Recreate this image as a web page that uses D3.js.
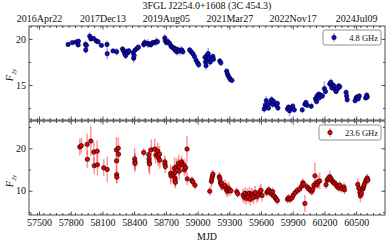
<!DOCTYPE html>
<html><head><meta charset="utf-8">
<script src="https://cdn.jsdelivr.net/npm/d3@7"></script>
<style>
html,body{margin:0;padding:0;background:#fff;}
svg text{font-family:"Liberation Serif","DejaVu Serif",serif;fill:#111;}
</style></head>
<body><svg id="c" width="389" height="243"></svg>
<script>
const title = "3FGL J2254.0+1608 (3C 454.3)";
const xTickValues = [57500,57800,58100,58400,58700,59000,59300,59600,59900,60200,60500];
const dateTickValues = [57500,58100,58700,59300,59900,60500];
const dateTickLabels = ["2016Apr22","2017Dec13","2019Aug05","2021Mar27","2022Nov17","2024Jul09"];
const yTopTicks = [15,20];
const yBotTicks = [10,20];
const legendTop = "4.8 GHz";
const legendBot = "23.6 GHz";

const mjd48 = [57775,57815,57848,57872,57870,57940,57942,57948,57980,57990,58015,58040,58058,58090,58143,58145,58200,58234,58290,58300,58310,58320,58330,58340,58350,58390,58395,58400,58410,58430,58440,58490,58500,58510,58530,58545,58560,58575,58590,58610,58620,58690,58695,58705,58720,58735,58750,58760,58775,58785,58795,58805,58815,58830,58850,58860,58925,58940,58955,58970,58985,59000,59010,59070,59075,59080,59090,59095,59100,59110,59120,59145,59150,59210,59220,59275,59282,59290,59300,59310,59325,59630,59640,59650,59660,59670,59690,59700,59710,59720,59745,59755,59760,59850,59860,59870,59885,59900,59915,59990,60015,60025,60035,60075,60115,60125,60130,60145,60150,60165,60180,60200,60210,60250,60260,60270,60280,60290,60300,60310,60325,60335,60345,60405,60410,60415,60490,60500,60510,60520,60530,60590,60600,60605];
const flux48 = [19.4,19.6,19.65,19.75,19.35,19.4,18.8,19.3,20.3,20.0,20.05,19.8,19.7,19.3,19.4,18.4,18.7,18.6,18.9,18.7,18.4,18.2,18.6,18.5,18.7,18.5,17.9,18.2,18.8,19.0,19.1,19.4,19.6,19.5,19.5,19.4,19.4,19.6,19.6,19.7,19.7,20.1,19.8,19.6,19.7,19.5,19.2,19.1,19.0,18.8,18.9,18.6,18.8,18.7,18.8,18.6,18.8,18.6,18.4,18.1,17.7,17.4,17.2,18.0,17.5,17.1,18.2,17.8,18.4,18.0,17.5,18.1,17.8,17.6,17.4,16.5,16.2,16.0,15.8,15.6,15.5,12.4,12.8,13.3,12.8,12.5,13.1,13.4,12.9,13.2,12.8,13.0,12.5,12.4,12.6,12.2,12.5,12.7,12.3,12.3,12.9,13.1,12.8,12.7,13.5,13.2,13.8,14.0,13.6,13.9,13.8,14.6,14.3,15.1,15.3,14.7,15.0,14.9,14.5,14.3,14.6,14.9,14.8,14.2,13.8,13.4,13.3,13.6,13.7,13.5,13.8,13.6,13.9,13.7];
const err48 = [0.2,0.2,0.2,0.2,0.25,0.4,0.4,0.3,0.4,0.3,0.25,0.3,0.3,0.2,0.4,0.6,0.2,0.4,0.3,0.3,0.5,0.4,0.4,0.3,0.3,0.4,0.5,0.4,0.3,0.3,0.3,0.4,0.4,0.3,0.5,0.3,0.4,0.3,0.3,0.5,0.3,0.4,0.3,0.3,0.4,0.3,0.4,0.3,0.4,0.4,0.3,0.4,0.3,0.5,0.4,0.3,0.3,0.3,0.3,0.4,0.4,0.4,0.4,0.4,0.5,0.5,0.5,0.5,0.6,0.4,0.4,0.3,0.3,0.3,0.3,0.3,0.4,0.3,0.4,0.3,0.3,0.4,0.5,0.5,0.4,0.3,0.4,0.4,0.4,0.3,0.3,0.3,0.3,0.3,0.3,0.6,0.3,0.3,0.3,0.3,0.3,0.3,0.3,0.3,0.3,0.3,0.3,0.3,0.3,0.3,0.3,0.8,0.3,0.3,0.4,0.3,0.3,0.3,0.3,0.3,0.3,0.3,0.3,0.3,0.3,0.3,0.3,0.3,0.3,0.3,0.3,0.3,0.3,0.3];

const mjd236 = [57885,57900,57955,57957,57990,58018,58022,58050,58052,58112,58145,58232,58233,58234,58236,58250,58252,58405,58407,58408,58490,58538,58540,58542,58545,58562,58595,58605,58623,58625,58628,58640,58642,58690,58692,58695,58745,58748,58768,58782,58784,58786,58788,58790,58800,58820,58822,58826,58848,58852,58872,58875,58888,58900,58902,58945,58955,58975,59115,59130,59135,59140,59145,59205,59210,59215,59222,59230,59238,59260,59270,59280,59290,59300,59315,59370,59380,59430,59440,59450,59460,59470,59480,59490,59500,59510,59520,59530,59545,59560,59575,59590,59600,59610,59655,59665,59675,59685,59700,59710,59720,59735,59745,59755,59850,59860,59875,59895,59905,59925,59945,59965,59985,59995,60005,60015,60035,60050,60065,60080,60090,60100,60110,60120,60130,60140,60155,60215,60225,60235,60250,60260,60270,60280,60295,60310,60320,60335,60345,60360,60385,60390,60515,60525,60535,60540,60550,60565,60570,60575,60585,60595,60605,60612];
const flux236 = [20.3,20.6,20.9,17.4,21.7,19.1,15.9,19.3,16.1,15.4,15.0,19.6,17.0,13.8,13.2,20.0,18.6,17.5,16.8,16.4,19.0,18.5,17.5,16.8,16.3,19.6,19.8,18.4,19.3,18.4,17.8,18.6,17.2,16.8,16.3,15.7,14.1,13.5,13.9,15.3,14.3,13.0,12.5,12.0,15.6,16.5,15.6,14.6,16.8,16.2,16.0,14.9,15.4,19.8,12.8,12.4,12.1,11.3,9.9,12.2,12.8,13.4,13.9,13.3,12.8,12.0,11.5,11.8,11.0,11.2,10.4,9.9,10.6,10.2,10.0,9.8,9.3,9.0,8.5,9.4,8.2,9.0,8.6,9.4,8.0,9.2,8.9,8.4,9.6,8.6,9.1,9.7,10.1,8.9,9.6,9.9,10.2,9.7,9.2,9.8,8.8,8.4,8.0,7.7,8.0,8.3,8.0,8.4,9.0,9.6,10.1,10.4,11.1,11.9,11.5,7.0,10.9,10.5,10.2,9.8,10.3,11.3,13.5,11.7,11.4,12.1,12.3,11.4,12.5,12.8,13.3,12.9,12.4,12.1,11.8,11.5,11.0,10.7,11.3,10.5,10.9,10.2,11.5,10.6,9.6,8.8,9.3,10.4,10.9,11.3,12.0,12.6,13.0,12.5];
const err236 = [2.0,1.8,2.5,2.0,3.5,2.5,2.0,2.5,2.5,2.0,3.0,3.0,2.5,2.0,1.5,2.5,2.0,2.5,2.0,2.0,1.0,1.5,2.5,2.5,2.5,2.5,2.5,2.0,2.0,2.0,2.0,2.0,2.0,1.5,1.5,1.5,2.0,2.0,2.0,2.5,2.0,2.0,1.5,1.5,2.0,2.0,2.0,2.0,1.5,1.5,1.5,1.5,1.5,3.0,1.5,1.0,1.0,1.0,1.0,1.5,1.5,1.5,1.0,1.0,1.5,1.5,1.5,1.5,1.0,1.5,1.5,1.5,1.5,1.5,1.0,1.0,1.0,1.5,1.5,1.5,1.5,1.5,1.5,1.5,1.5,1.5,1.5,1.5,1.5,1.5,1.5,1.5,1.5,1.5,1.0,1.0,1.0,1.0,1.0,1.0,1.0,1.0,1.0,1.0,1.0,1.0,1.0,1.0,1.0,1.0,1.0,1.0,1.0,1.0,1.0,2.0,1.0,1.0,1.0,1.0,1.0,1.0,3.0,1.0,1.0,1.5,2.0,1.0,1.0,1.0,1.5,1.0,1.0,1.0,1.0,1.0,1.0,1.0,1.0,1.0,1.0,1.0,1.5,1.5,1.5,1.5,1.0,1.0,1.0,1.0,1.0,1.0,1.0,1.0];

const svg = d3.select("#c");
const L = 29, R = 385;
const x = d3.scaleLinear().domain([57405, 60773]).range([L, R]);
const yT = d3.scaleLinear().domain([11.2, 21.4]).range([120, 26]);
const yB = d3.scaleLinear().domain([4.3, 26.4]).range([215, 121]);
const minorX = d3.range(57420, 60780, 60);
const FS = 10;

function panel(y, yMajor, yMinor, mjd, flux, err, fill, ecol, showTop, showBottom, legText, leg) {
  const [y0, y1] = y.range();
  const g = svg.append("g");
  // axes ticks
  const axBot = d3.axisBottom(x).tickValues(xTickValues).tickSize(-3.5).tickPadding(4)
    .tickFormat(showBottom ? d3.format("d") : "");
  const axBotMin = d3.axisBottom(x).tickValues(minorX).tickSize(-2).tickFormat("");
  const axTop = d3.axisTop(x).tickValues(showTop ? dateTickValues : xTickValues).tickSize(-3.5).tickPadding(4)
    .tickFormat(showTop ? (d,i)=>dateTickLabels[i] : "");
  const axTopMin = d3.axisTop(x).tickValues(minorX).tickSize(-2).tickFormat("");
  const axL = d3.axisLeft(y).tickValues(yMajor).tickSize(-3.5).tickPadding(3).tickFormat(d3.format("d"));
  const axLMin = d3.axisLeft(y).tickValues(yMinor).tickSize(-2).tickFormat("");
  const axR = d3.axisRight(y).tickValues(yMajor).tickSize(-3.5).tickFormat("");
  const axRMin = d3.axisRight(y).tickValues(yMinor).tickSize(-2).tickFormat("");
  const add = (ax, tr) => {
    const a = g.append("g").attr("transform", tr).call(ax);
    a.select(".domain").remove();
    a.selectAll("line").attr("stroke", "#222").attr("stroke-width", 0.8);
    a.selectAll("text").attr("font-size", FS).attr("fill", "#111")
      .style("font-family", '"Liberation Serif","DejaVu Serif",serif');
    return a;
  };
  add(axBot, `translate(0,${y0})`); add(axBotMin, `translate(0,${y0})`);
  add(axTop, `translate(0,${y1})`); add(axTopMin, `translate(0,${y1})`);
  add(axL, `translate(${L},0)`); add(axLMin, `translate(${L},0)`);
  add(axR, `translate(${R},0)`); add(axRMin, `translate(${R},0)`);

  const data = mjd.map((m, i) => ({m, f: flux[i], e: err[i]}));
  const clipId = "clip" + Math.round(y1);
  svg.append("clipPath").attr("id", clipId).append("rect")
    .attr("x", L).attr("y", y1).attr("width", R - L).attr("height", y0 - y1);
  const dg = svg.append("g").attr("clip-path", `url(#${clipId})`);
  dg.selectAll("line.eb").data(data).enter().append("line")
    .attr("x1", d => x(d.m)).attr("x2", d => x(d.m))
    .attr("y1", d => y(d.f - d.e)).attr("y2", d => y(d.f + d.e))
    .attr("stroke", ecol).attr("stroke-width", 1.5);
  dg.selectAll("circle").data(data).enter().append("circle")
    .attr("cx", d => x(d.m)).attr("cy", d => y(d.f)).attr("r", 2.2)
    .attr("fill", fill).attr("stroke", "#000").attr("stroke-width", 0.6);

  // frame
  svg.append("rect").attr("x", L).attr("y", y1).attr("width", R - L).attr("height", y0 - y1)
    .attr("fill", "none").attr("stroke", "#222").attr("stroke-width", 0.8);

  // legend
  const lg = svg.append("g");
  lg.append("rect").attr("x", leg.x).attr("y", leg.y).attr("width", leg.w).attr("height", 15)
    .attr("rx", 2).attr("fill", "#fff").attr("stroke", "#777").attr("stroke-width", 0.8);
  const mx = leg.x + 11, my = leg.y + 7.5;
  lg.append("line").attr("x1", mx).attr("x2", mx).attr("y1", my - 4.5).attr("y2", my + 4.5)
    .attr("stroke", ecol).attr("stroke-width", 1.5);
  lg.append("circle").attr("cx", mx).attr("cy", my).attr("r", 2.2)
    .attr("fill", fill).attr("stroke", "#000").attr("stroke-width", 0.6);
  lg.append("text").attr("x", leg.x + leg.w - 3).attr("y", my + 3).attr("text-anchor", "end")
    .attr("font-size", 8.5).text(legText);
}

panel(yT, yTopTicks, [12.5, 17.5], mjd48, flux48, err48, "#0a0ad0", "rgba(70,70,255,0.5)", true, false, legendTop,
  {x: 323, y: 30, w: 58});
panel(yB, yBotTicks, [5, 15, 25], mjd236, flux236, err236, "#e60000", "rgba(255,50,50,0.5)", false, true, legendBot,
  {x: 319, y: 125, w: 62});

svg.append("text").attr("x", (L + R) / 2).attr("y", 9).attr("text-anchor", "middle")
  .attr("font-size", FS).text(title);
svg.append("text").attr("x", (L + R) / 2).attr("y", 240).attr("text-anchor", "middle")
  .attr("font-size", FS).text("MJD");

function ylab(cy) {
  const t = svg.append("text").attr("transform", `translate(13,${cy}) rotate(-90)`)
    .attr("text-anchor", "middle").attr("font-size", FS);
  t.append("tspan").attr("font-style", "italic").text("F");
  t.append("tspan").attr("font-size", 7).attr("dy", 2.5).attr("font-style", "italic").text("Jy");
}
ylab(75);
ylab(181);
</script></body></html>
